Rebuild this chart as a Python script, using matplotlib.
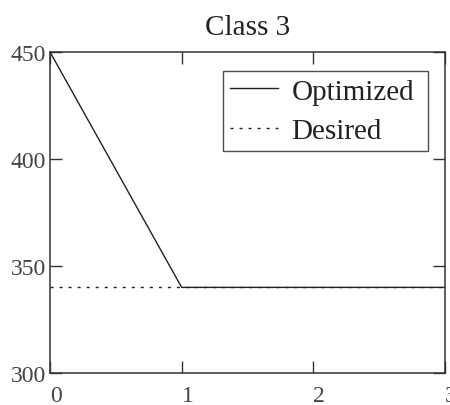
import matplotlib
matplotlib.use("Agg")
import matplotlib.pyplot as plt

plt.rcParams['font.family'] = ['Liberation Serif', 'DejaVu Serif']

# data
opt_x = [0, 1, 3]
opt_y = [450, 340, 340]
des_x = [0, 3]
des_y = [340, 340]
x_ticks = [0, 1, 2, 3]
y_ticks = [300, 350, 400, 450]

fig = plt.figure(figsize=(4.5, 4.06), dpi=100)
ax = fig.add_axes([50 / 450, 1 - 374 / 406, 395 / 450, 321 / 406])

ax.plot(des_x, des_y, color='#222222', lw=1.0, dashes=(2.2, 4.3), label='Desired')
ax.plot(opt_x, opt_y, color='#222222', lw=1.0, label='Optimized')

ax.set_xlim(0, 3)
ax.set_ylim(300, 450)
ax.set_xticks(x_ticks)
ax.set_yticks(y_ticks)
ax.tick_params(direction='in', length=8.5, width=1.0, color='#333333',
               top=True, right=True, labelsize=17, labelcolor='#444444')
ax.tick_params(axis='y', pad=3)
ax.tick_params(axis='x', pad=9)
for lab in ax.get_xticklabels():
    lab.set_horizontalalignment('left')
for sp in ax.spines.values():
    sp.set_linewidth(1.1)
    sp.set_color('#333333')

ax.set_title('Class 3', fontsize=21, pad=13, color='#222222')

handles, labels = ax.get_legend_handles_labels()
leg = ax.legend(handles[::-1], labels[::-1], loc='upper left',
                bbox_to_anchor=(0.438, 0.941, 0.519, 0.0), mode='expand',
                fontsize=21, frameon=True,
                fancybox=False, borderpad=0.25, handlelength=1.65,
                handletextpad=0.45, labelspacing=0.45, borderaxespad=0)
leg.get_frame().set_edgecolor('#222222')
leg.get_frame().set_linewidth(1.0)
for t in leg.get_texts():
    t.set_color('#222222')

fig.savefig('out.png', dpi=100)
